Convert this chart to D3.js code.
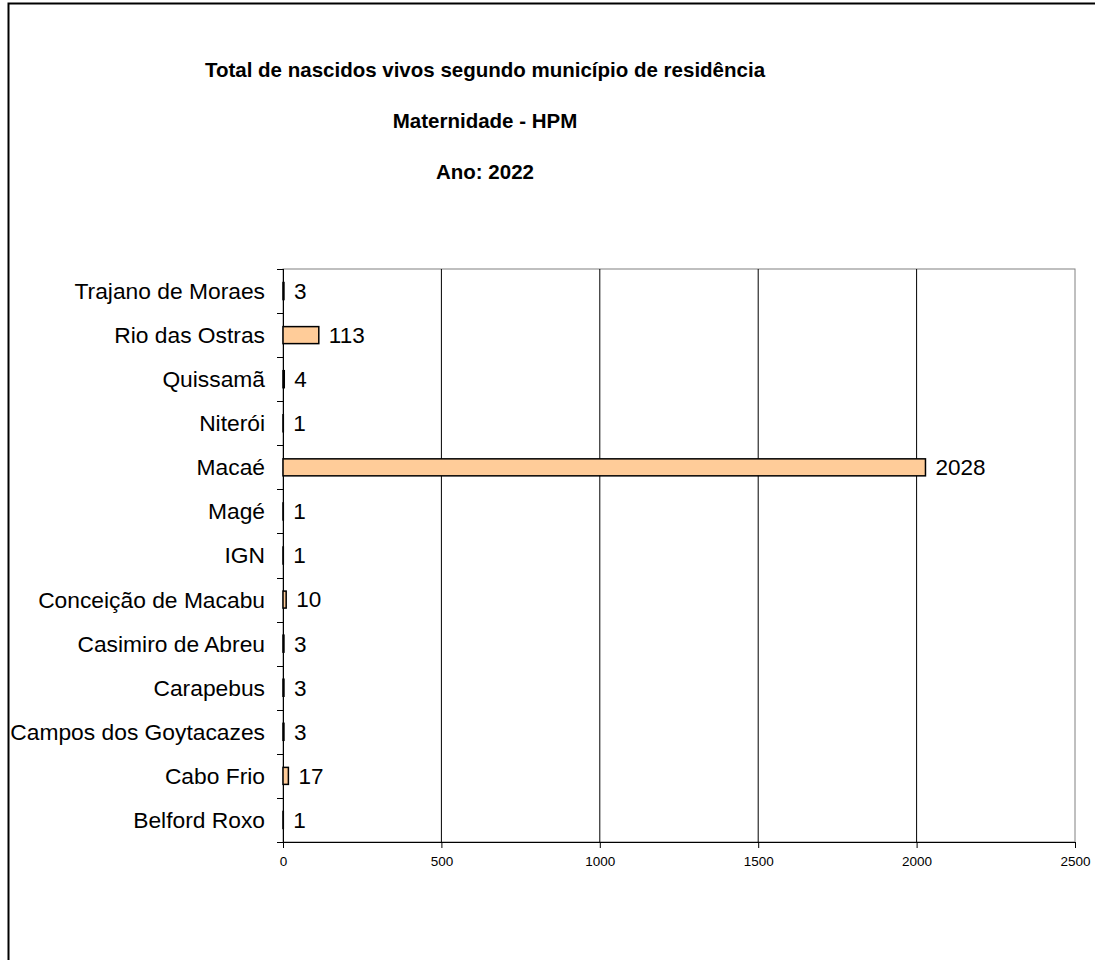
<!DOCTYPE html>
<html>
<head>
<meta charset="utf-8">
<script src="https://cdn.jsdelivr.net/npm/d3@7"></script>
<style>
  body { margin: 0; background: #fff; }
  text { font-family: "Liberation Sans", Arial, sans-serif; }
</style>
</head>
<body>
<div id="chart"></div>
<script>
// data, top to bottom as drawn
const municipios = ["Trajano de Moraes", "Rio das Ostras", "Quissamã", "Niterói", "Macaé", "Magé",
  "IGN", "Conceição de Macabu", "Casimiro de Abreu", "Carapebus", "Campos dos Goytacazes",
  "Cabo Frio", "Belford Roxo"];
const nascidos = [3, 113, 4, 1, 2028, 1, 1, 10, 3, 3, 3, 17, 1];
const xTicks = [0, 500, 1000, 1500, 2000, 2500];
const titulos = ["Total de nascidos vivos segundo município de residência", "Maternidade - HPM", "Ano: 2022"];

const W = 1095, H = 960;
const plot = {left: 283, top: 269, right: 1075, bottom: 842};

const svg = d3.select("#chart").append("svg")
  .attr("width", W).attr("height", H);

// outer frame
svg.append("rect")
  .attr("x", 8.5).attr("y", 3.5)
  .attr("width", W + 10).attr("height", H + 10)
  .attr("fill", "none").attr("stroke", "#000").attr("stroke-width", 2);

// titles
svg.selectAll("text.titulo")
  .data(titulos)
  .enter().append("text")
  .attr("class", "titulo")
  .attr("x", 485)
  .attr("y", (d, i) => 77 + i * 51)
  .attr("text-anchor", "middle")
  .attr("font-size", 20.5)
  .attr("font-weight", "bold")
  .text(d => d);

const x = d3.scaleLinear().domain([0, 2500]).range([plot.left, plot.right]);
const band = d3.scaleBand().domain(municipios).range([plot.top, plot.bottom]);

// plot border (gray)
svg.append("rect")
  .attr("x", plot.left).attr("y", plot.top)
  .attr("width", plot.right - plot.left).attr("height", plot.bottom - plot.top)
  .attr("fill", "none").attr("stroke", "#808080").attr("stroke-width", 1);

// vertical gridlines
svg.selectAll("line.grid")
  .data(xTicks.slice(1, -1))
  .enter().append("line")
  .attr("class", "grid")
  .attr("x1", d => x(d)).attr("x2", d => x(d))
  .attr("y1", plot.top).attr("y2", plot.bottom)
  .attr("stroke", "#000").attr("stroke-width", 1);

// x axis
const xAxis = svg.append("g")
  .attr("transform", `translate(0,${plot.bottom})`)
  .call(d3.axisBottom(x).tickValues(xTicks).tickSize(6).tickPadding(8).tickFormat(d3.format("d")));
xAxis.select(".domain").attr("stroke", "#000").attr("d", `M${plot.left - 6},0.5H${plot.right}`);
xAxis.selectAll("text").attr("font-size", 13.5).attr("font-family", "Liberation Sans, Arial, sans-serif").attr("fill", "#000");

// y axis: ticks at category boundaries
const bounds = municipios.map(m => band(m)).concat([plot.bottom]);
svg.append("line")
  .attr("x1", plot.left + 0.5).attr("x2", plot.left + 0.5)
  .attr("y1", plot.top).attr("y2", plot.bottom + 6)
  .attr("stroke", "#000");
svg.selectAll("line.ytick")
  .data(bounds)
  .enter().append("line")
  .attr("class", "ytick")
  .attr("x1", plot.left - 6).attr("x2", plot.left)
  .attr("y1", d => Math.round(d) + 0.5).attr("y2", d => Math.round(d) + 0.5)
  .attr("stroke", "#000");

svg.selectAll("text.cat")
  .data(municipios)
  .enter().append("text")
  .attr("class", "cat")
  .attr("x", 265)
  .attr("y", d => band(d) + band.bandwidth() / 2)
  .attr("dy", "0.35em")
  .attr("text-anchor", "end")
  .attr("font-size", 22.8)
  .text(d => d);

// bars
const rows = municipios.map((m, i) => ({m, v: nascidos[i]}));
svg.selectAll("rect.bar")
  .data(rows)
  .enter().append("rect")
  .attr("class", "bar")
  .attr("x", x(0))
  .attr("y", d => band(d.m) + band.bandwidth() / 2 - 8.5)
  .attr("width", d => x(d.v) - x(0))
  .attr("height", 17)
  .attr("fill", "#FFCC99")
  .attr("stroke", "#000")
  .attr("stroke-width", 1.5);

svg.selectAll("text.val")
  .data(rows)
  .enter().append("text")
  .attr("class", "val")
  .attr("x", d => x(d.v) + 10)
  .attr("y", d => band(d.m) + band.bandwidth() / 2)
  .attr("dy", "0.35em")
  .attr("font-size", 22.5)
  .text(d => d.v);
</script>
</body>
</html>
